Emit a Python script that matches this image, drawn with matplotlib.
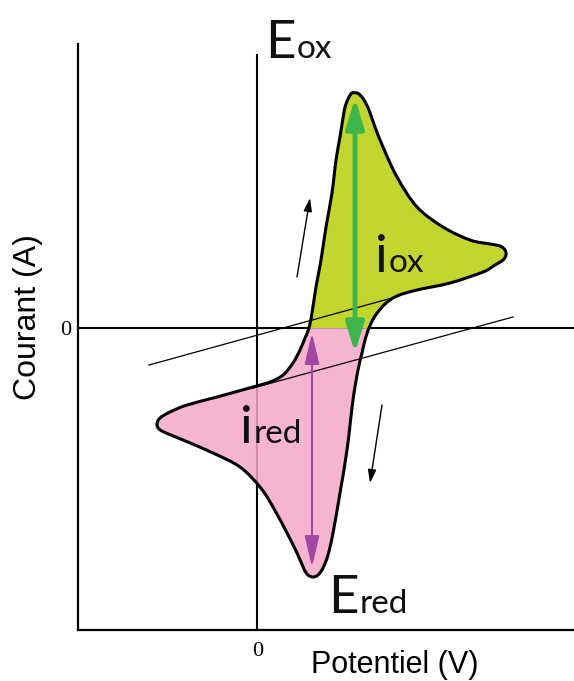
import numpy as np
import matplotlib
matplotlib.use('Agg')
import matplotlib.pyplot as plt
from matplotlib.patches import Rectangle, PathPatch
from matplotlib.path import Path

# contour du voltammogramme (potentiel, courant) - unites arbitraires
potentiel = [0.51, 0.54, 0.58, 0.63, 0.68, 0.74, 0.78, 0.82, 0.86, 0.88, 0.91, 0.94,
             0.99, 1.02, 1.06, 1.11, 1.17, 1.25, 1.39, 1.59, 1.85, 2.12, 2.32, 2.42,
             2.47, 2.48, 2.45, 2.37, 2.25, 1.92, 1.59, 1.39, 1.27, 1.17, 1.11, 1.07,
             1.04, 1.00, 0.95, 0.89, 0.82, 0.75, 0.70, 0.65, 0.60, 0.55, 0.50, 0.46,
             0.39, 0.29, 0.15, 0.02, -0.18, -0.45, -0.75, -0.92, -0.99, -1.01, -0.98,
             -0.88, -0.71, -0.41, -0.05, 0.12, 0.25, 0.35, 0.42, 0.47]
courant = [0.00, 0.15, 0.41, 0.68, 1.01, 1.35, 1.68, 1.91, 2.16, 2.24, 2.31, 2.35,
           2.35, 2.33, 2.28, 2.18, 2.01, 1.81, 1.51, 1.21, 1.01, 0.88, 0.84, 0.82,
           0.78, 0.73, 0.68, 0.63, 0.56, 0.45, 0.38, 0.32, 0.24, 0.12, 0.00, -0.12,
           -0.25, -0.42, -0.72, -1.22, -1.65, -2.05, -2.27, -2.40, -2.47, -2.49, -2.47, -2.41,
           -2.25, -2.05, -1.79, -1.59, -1.39, -1.25, -1.12, -1.05, -1.01, -0.96, -0.90,
           -0.84, -0.77, -0.69, -0.59, -0.54, -0.47, -0.35, -0.22, -0.10]

# lignes de base (x1, y1, x2, y2)
base_ox = [-1.09, -0.37, 1.34, 0.30]
base_red = [-0.05, -0.60, 2.55, 0.11]

# fleches des courants de pic
E_ox, i_ox = 0.97, (2.30, -0.25)
E_red, i_red = 0.54, (-0.05, -2.39)

# sens du balayage
aller = [(0.39, 0.51), (0.52, 1.30)]
retour = [(1.24, -0.77), (1.12, -1.55)]

vert = '#c3d62f'
rose = '#f4a7c8'


def courbe_fermee(xs, ys):
    # trace lisse (catmull-rom -> bezier) passant par les points lus
    p = np.column_stack([xs, ys])
    n = len(p)
    verts = [p[0]]
    codes = [Path.MOVETO]
    for i in range(n):
        p0, p1, p2, p3 = p[i - 1], p[i], p[(i + 1) % n], p[(i + 2) % n]
        verts += [p1 + (p2 - p0) / 6, p2 - (p3 - p1) / 6, p2]
        codes += [Path.CURVE4] * 3
    return Path(verts, codes)


fig = plt.figure(figsize=(5.74, 6.81), dpi=100)
ax = fig.add_axes([78/574, 51/681, 496/574, 586/681])
ax.set_xlim(-1.80, 3.16)
ax.set_ylim(-3.02, 2.84)

for s in ['top', 'right']:
    ax.spines[s].set_visible(False)
for s in ['left', 'bottom']:
    ax.spines[s].set_linewidth(1.6)

ax.set_xticks([0])
ax.set_yticks([0])
ax.set_xticklabels(['0'], family='Liberation Serif', fontsize=16)
ax.set_yticklabels(['0'], family='Liberation Serif', fontsize=16)
ax.tick_params(axis='x', length=0, pad=9)
ax.tick_params(axis='y', length=0, pad=5)

# axes du zero
ax.axhline(0, color='black', lw=1.5, zorder=1)
ax.plot([-0.01, -0.01], [-3.02, 2.73], color='black', lw=1.5, zorder=1)

# remplissage: vert au dessus de zero, rose en dessous
cv = courbe_fermee(potentiel, courant)
haut = Rectangle((-5, 0), 10, 5, transform=ax.transData)
bas = Rectangle((-5, -5), 10, 5, transform=ax.transData)
p1 = ax.add_patch(PathPatch(cv, fc=vert, lw=0, zorder=2))
p1.set_clip_path(haut)
p2 = ax.add_patch(PathPatch(cv, fc=rose, alpha=0.85, lw=0, zorder=2))
p2.set_clip_path(bas)

ax.plot(base_ox[::2], base_ox[1::2], color='black', lw=0.9, zorder=3)
ax.plot(base_red[::2], base_red[1::2], color='black', lw=0.9, zorder=3)

ax.add_patch(PathPatch(cv, fill=False, ec='black', lw=2.2, zorder=4, joinstyle='round'))

ax.annotate('', xy=(E_ox, i_ox[0]), xytext=(E_ox, i_ox[1]),
            arrowprops=dict(arrowstyle='<|-|>,head_length=1.8,head_width=0.55',
                            color='#3db54a', lw=3.5, shrinkA=0, shrinkB=0,
                            mutation_scale=10), zorder=5)
ax.annotate('', xy=(E_red, i_red[0]), xytext=(E_red, i_red[1]),
            arrowprops=dict(arrowstyle='<|-|>,head_length=1.9,head_width=0.45',
                            color='#a347a3', lw=1.5, shrinkA=0, shrinkB=0,
                            mutation_scale=10), zorder=5)

for a in [aller, retour]:
    ax.annotate('', xy=a[1], xytext=a[0],
                arrowprops=dict(arrowstyle='-|>,head_length=0.8,head_width=0.25',
                                color='black', lw=1.0, shrinkA=0, shrinkB=0,
                                mutation_scale=10))

# etiquettes: grande lettre + indice plus petit colle a droite
gros = dict(family='Lato', fontsize=38, va='baseline', ha='left', color='#111111', zorder=6)
petit = dict(family='Lato', fontsize=24, va='baseline', ha='left', color='#111111', zorder=6)
etiquettes = [('E', 'ox', 0.07, 2.70), ('i', 'ox', 1.17, 0.56),
              ('i', 'red', -0.18, -1.15), ('E', 'red', 0.70, -2.85)]
renderer = fig.canvas.get_renderer()
for grand, indice, x, y in etiquettes:
    t = ax.text(x, y, grand, **gros)
    w = t.get_window_extent(renderer).width * 72 / fig.dpi
    ax.annotate(indice, xy=(x, y), xytext=(w + 0.5, 0), textcoords='offset points',
                annotation_clip=False, **petit)

fig.text(28/574, 1 - 317/681, 'Courant (A)', rotation=90, ha='center', va='center',
         family='Liberation Sans', fontsize=23)
fig.text(395/574, 1 - 673/681, 'Potentiel (V)', ha='center', va='baseline',
         family='Liberation Sans', fontsize=22)

fig.savefig('out.png', dpi=100)
